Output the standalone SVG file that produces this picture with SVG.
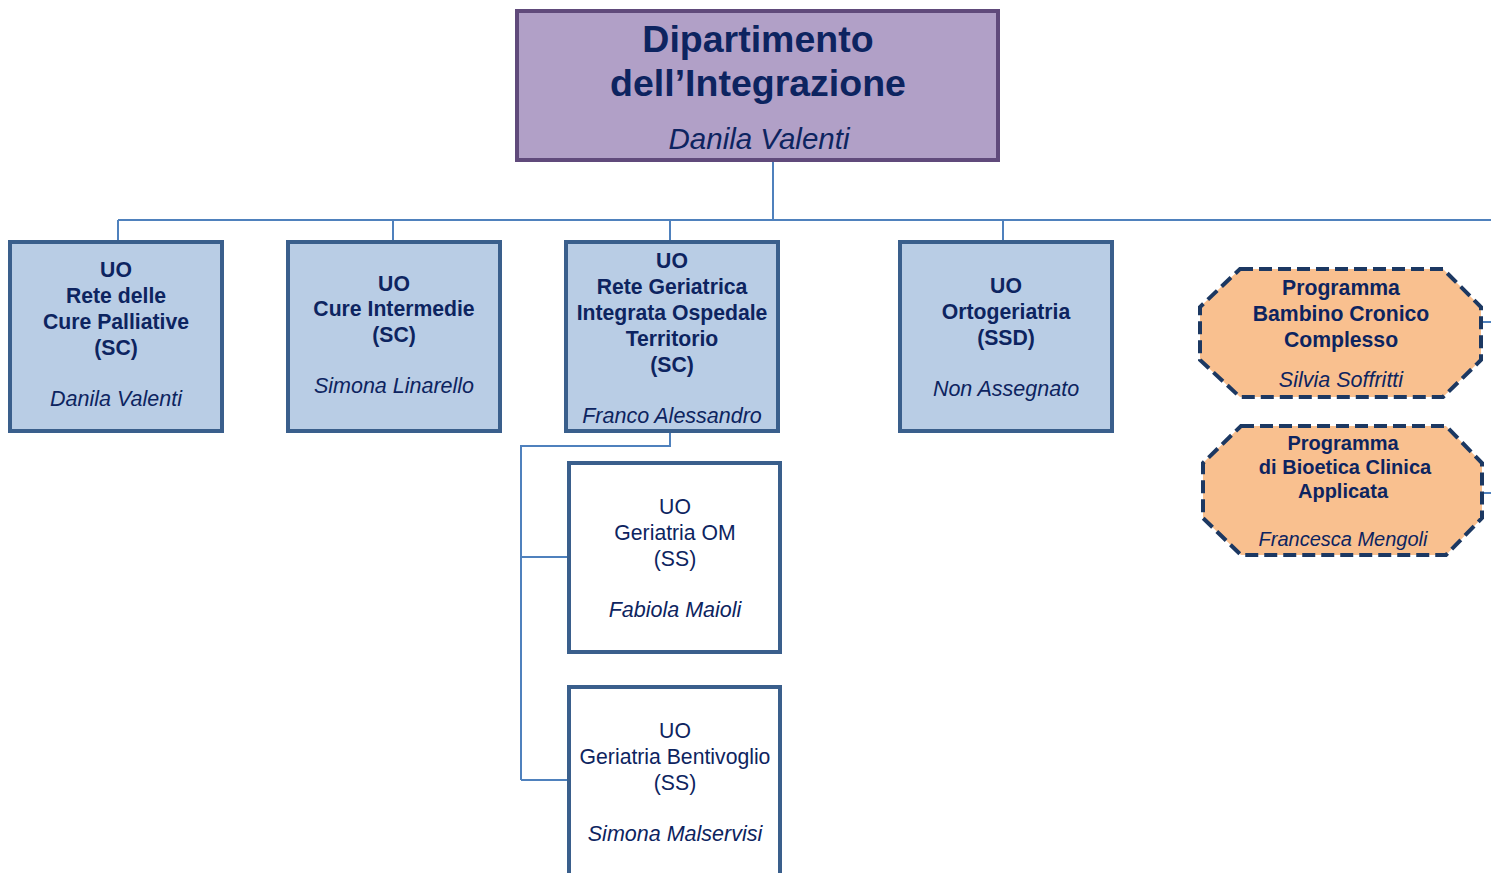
<svg xmlns="http://www.w3.org/2000/svg" width="1491" height="873" viewBox="0 0 1491 873">
<style>
text{font-family:"Liberation Sans",Arial,sans-serif;fill:#0d2460;text-anchor:middle}
.b{font-weight:bold;font-size:21.2px}
.r{font-size:21.2px}
.i{font-style:italic;font-size:21.5px}
.sb{font-weight:bold;font-size:20px}
.si{font-style:italic;font-size:20px}
.uo{fill:#b9cde5;stroke:#3a5f8c;stroke-width:4}
.uw{fill:#ffffff;stroke:#3a5f8c;stroke-width:4}
.oct{fill:#f9c08f;stroke:#1c3862;stroke-width:4;stroke-dasharray:13 6}
.c{fill:none;stroke:#4f81bd;stroke-width:2}
</style>
<g id="connectors">
<path class="c" d="M773 161V220M118 220H1491M118 220V241M393 220V241M670 220V241M1003 220V241"/>
<path class="c" d="M670 432V446H521V780M521 557H568M521 780H568"/>
<path class="c" d="M1482 322H1491M1483 493H1491"/>
</g>
<g id="dept">
<rect x="517" y="11" width="481" height="149" fill="#b1a0c7" stroke="#604a7b" stroke-width="4"/>
<text x="758" y="52" style="font-weight:bold;font-size:37.5px">Dipartimento</text>
<text x="758" y="96" style="font-weight:bold;font-size:37.5px">dell’Integrazione</text>
<text x="759" y="149" style="font-style:italic;font-size:29.5px">Danila Valenti</text>
</g>
<g id="palliative">
<rect class="uo" x="10" y="242" width="212" height="189"/>
<text class="b" x="116" y="277">UO</text>
<text class="b" x="116" y="303">Rete delle</text>
<text class="b" x="116" y="329">Cure Palliative</text>
<text class="b" x="116" y="355">(SC)</text>
<text class="i" x="116" y="406">Danila Valenti</text>
</g>
<g id="intermedie">
<rect class="uo" x="288" y="242" width="212" height="189"/>
<text class="b" x="394" y="291">UO</text>
<text class="b" x="394" y="316">Cure Intermedie</text>
<text class="b" x="394" y="342">(SC)</text>
<text class="i" x="394" y="393">Simona Linarello</text>
</g>
<g id="geriatrica">
<rect class="uo" x="566" y="242" width="212" height="189"/>
<text class="b" x="672" y="268">UO</text>
<text class="b" x="672" y="294">Rete Geriatrica</text>
<text class="b" x="672" y="320">Integrata Ospedale</text>
<text class="b" x="672" y="346">Territorio</text>
<text class="b" x="672" y="372">(SC)</text>
<text class="i" x="672" y="423">Franco Alessandro</text>
</g>
<g id="ortogeriatria">
<rect class="uo" x="900" y="242" width="212" height="189"/>
<text class="b" x="1006" y="293">UO</text>
<text class="b" x="1006" y="319">Ortogeriatria</text>
<text class="b" x="1006" y="345">(SSD)</text>
<text class="i" x="1006" y="396">Non Assegnato</text>
</g>
<g id="om">
<rect class="uw" x="569" y="463" width="211" height="189"/>
<text class="r" x="675" y="514">UO</text>
<text class="r" x="675" y="540">Geriatria OM</text>
<text class="r" x="675" y="566">(SS)</text>
<text class="i" x="675" y="617">Fabiola Maioli</text>
</g>
<g id="bentivoglio">
<rect class="uw" x="569" y="687" width="211" height="200"/>
<text class="r" x="675" y="738">UO</text>
<text class="r" x="675" y="764">Geriatria Bentivoglio</text>
<text class="r" x="675" y="790">(SS)</text>
<text class="i" x="675" y="841">Simona Malservisi</text>
</g>
<g id="bambino">
<polygon class="oct" points="1240,269 1443,269 1481,307 1481,360 1443,397 1240,397 1200,360 1200,307"/>
<text class="b" x="1341" y="295">Programma</text>
<text class="b" x="1341" y="321">Bambino Cronico</text>
<text class="b" x="1341" y="347">Complesso</text>
<text class="i" x="1341" y="387">Silvia Soffritti</text>
</g>
<g id="bioetica">
<polygon class="oct" points="1241,426 1446,426 1482,463 1482,518 1446,555 1241,555 1203,518 1203,463"/>
<text class="sb" x="1343" y="450">Programma</text>
<text class="sb" x="1345" y="474">di Bioetica Clinica</text>
<text class="sb" x="1343" y="498">Applicata</text>
<text class="si" x="1343" y="546">Francesca Mengoli</text>
</g>
</svg>
